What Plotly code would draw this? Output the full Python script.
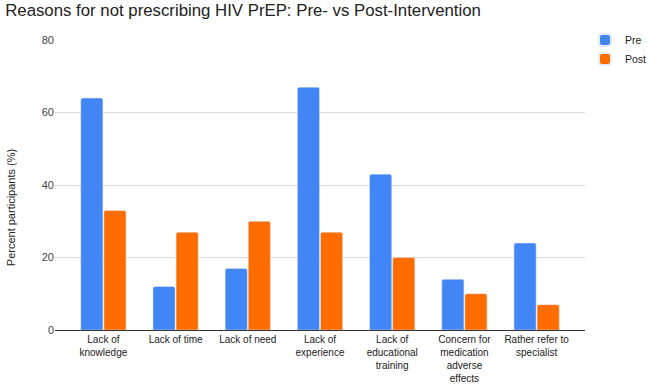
import plotly.graph_objects as go

categories = ["Lack of<br>knowledge", "Lack of time", "Lack of need", "Lack of<br>experience",
              "Lack of<br>educational<br>training", "Concern for<br>medication<br>adverse<br>effects",
              "Rather refer to<br>specialist"]
pre = [64, 12, 17, 67, 43, 14, 24]
post = [33, 27, 30, 27, 20, 10, 7]
y_ticks = [0, 20, 40, 60, 80]
y_title = "Percent participants (%)"

font = "Liberation Sans, Arial, sans-serif"
fig = go.Figure()
fig.add_trace(go.Bar(name="Pre", x=categories, y=pre, marker=dict(color="#4285F4", cornerradius=2)))
fig.add_trace(go.Bar(name="Post", x=categories, y=post, marker=dict(color="#FF6D01", cornerradius=2)))

fig.update_layout(
    width=650, height=386,
    margin=dict(l=55, r=65, t=40, b=56, autoexpand=False),
    paper_bgcolor="white", plot_bgcolor="white",
    barmode="group", bargap=0.36, bargroupgap=0.04,
    font=dict(family=font, size=10, color="#222"),
    title=dict(text="Reasons for not prescribing HIV PrEP: Pre- vs Post-Intervention",
               x=0.008, xanchor="left", y=0.974, yanchor="middle",
               font=dict(size=16.8, color="#222", family=font)),
    legend=dict(x=1.0, xanchor="left", y=1.05, yanchor="top", font=dict(size=10.5, color="#222"),
                bgcolor="rgba(0,0,0,0)", itemsizing="constant", itemwidth=30),
    xaxis=dict(showgrid=False, tickfont=dict(size=10, color="#222"), ticks="", tickangle=0,
               range=[-0.67, 6.67],
               automargin=False, showline=True, linecolor="#333", linewidth=1),
    yaxis=dict(range=[0, 80], tickvals=y_ticks, showgrid=True, gridcolor="#d9d9d9",
               automargin=False,
               zeroline=False, tickfont=dict(size=11, color="#444"), ticks=""),
    annotations=[dict(text=y_title, textangle=-90, xref="paper", yref="paper",
                      x=-0.083, y=0.42, xanchor="center", yanchor="middle", showarrow=False,
                      font=dict(size=11, color="#222", family=font))],
)
fig.write_html("out.html")
